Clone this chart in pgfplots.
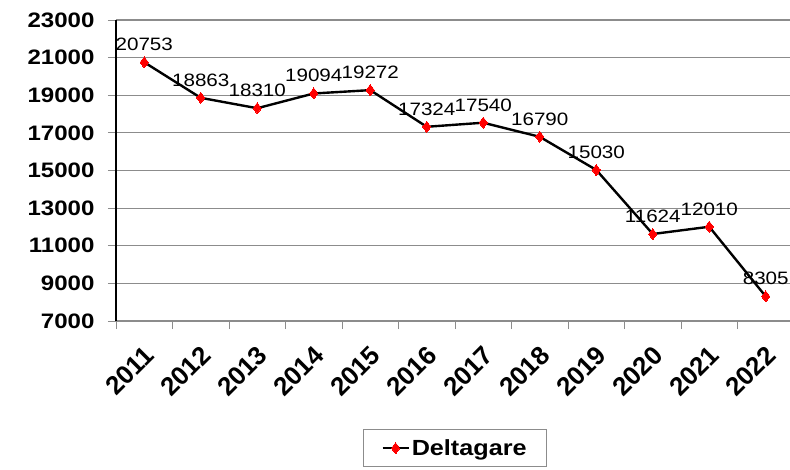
\documentclass[border=0pt]{standalone}
\usepackage{pgfplots}
\pgfplotsset{compat=1.18}
\usepackage{fontspec}
\setmainfont{Liberation Sans}
\newfontfamily\widefont{Liberation Sans}[FakeStretch=1.15]

\definecolor{gridgray}{RGB}{140,140,140}

\begin{document}
\begin{tikzpicture}[x=1bp,y=1bp]
\begin{axis}[
  at={(0,0)}, anchor=south west,
  width=678bp, height=301bp, scale only axis,
  xmin=-0.5, xmax=11.5,
  ymin=7000, ymax=23000,
  ytick={7000,9000,...,23000},
  xtick={0,...,11},
  xticklabels={2011,2012,2013,2014,2015,2016,2017,2018,2019,2020,2021,2022},
  minor xtick={-0.5,0.5,...,11.5},
  major x tick style={draw=none},
  minor tick length=8bp,
  major tick length=8bp,
  tick align=outside,
  axis x line*=bottom,
  axis y line*=left,
  x axis line style={gridgray, line width=1.5pt, -},
  y axis line style={black, line width=1.2pt, -},
  tick style={gridgray, line width=1pt},
  ymajorgrids,
  grid style={gridgray, line width=1.2pt},
  scaled y ticks=false,
  /pgf/number format/assume math mode=true,
  yticklabel={\pgfmathprintnumber[1000 sep={}]{\tick}},
  yticklabel style={font=\widefont\bfseries\fontsize{21}{23}\selectfont, xshift=-10bp},
  xticklabel style={font=\bfseries\fontsize{26}{28}\selectfont, rotate=45, anchor=east, xshift=-8bp, yshift=-19bp},
  legend style={at={(axis description cs:0.5,-0.359)}, anchor=north, draw=gridgray, line width=1pt,
    font=\widefont\bfseries\fontsize{22}{24}\selectfont, inner xsep=18bp, inner ysep=8bp,
    legend cell align=left},
  legend image code/.code={
    \draw[black, line width=2.4pt] (0bp,0bp) -- (26bp,0bp);
    \path[fill=red, draw=red] plot[mark=diamond*, mark size=5.5bp] coordinates {(13bp,0bp)};
  },
  nodes near coords,
  point meta=explicit symbolic,
  every node near coord/.append style={font=\widefont\fontsize{18}{20}\selectfont, anchor=south, yshift=8bp},
  clip=false,
]
\addplot[black, line width=2.4pt, mark=diamond*, mark size=5.5bp,
  mark options={fill=red, draw=red, line width=0pt}]
  table[meta=lab] {
x y lab
0 20753 20753
1 18863 18863
2 18310 18310
3 19094 19094
4 19272 19272
5 17324 17324
6 17540 17540
7 16790 16790
8 15030 15030
9 11624 11624
10 12010 12010
11 8305 8305
};
\addlegendentry{Deltagare}
\end{axis}
\pgfresetboundingbox
\path[use as bounding box] (-116bp,-149bp) rectangle (674bp,321bp);
\end{tikzpicture}
\end{document}
